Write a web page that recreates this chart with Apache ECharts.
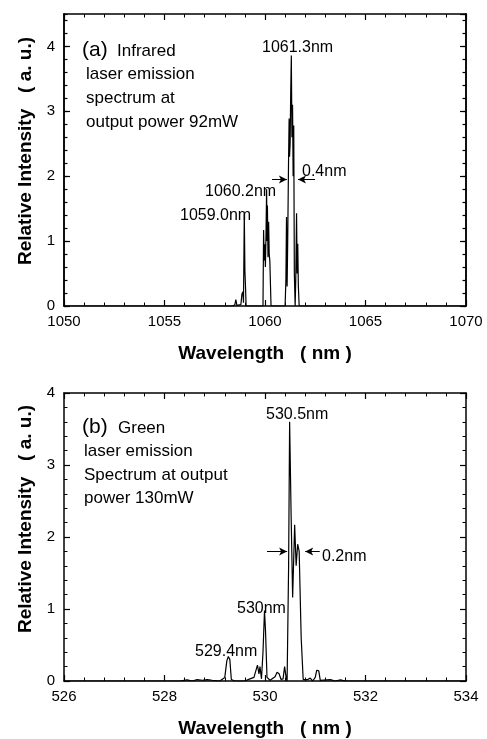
<!DOCTYPE html>
<html><head><meta charset="utf-8">
<script src="https://cdn.jsdelivr.net/npm/echarts@6/dist/echarts.min.js"></script>
<style>html,body{margin:0;padding:0;background:#fff}#c{width:487px;height:739px}</style>
</head><body><div id="c"></div>
<script>
// Infrared spectrum (a)
const irWavelength = [1050,1058.4,1058.5,1058.55,1058.6,1058.8,1058.85,1058.9,1058.93,1058.97,1059.0,1059.03,1059.06,
  1059.9,1059.93,1059.96,1059.99,1060.02,1060.05,1060.08,1060.1,1060.12,1060.15,1060.18,1060.21,1060.24,1060.3,
  1061.0,1061.04,1061.07,1061.1,1061.13,1061.17,1061.2,1061.22,1061.25,1061.28,1061.31,1061.34,1061.37,1061.4,1061.43,1061.46,1061.5,
  1061.53,1061.57,1061.6,1061.63,1061.66,1061.7,1070];
const irIntensity = [0,0,0.02,0.1,0.01,0.02,0.18,0.22,0.05,1.42,0.55,0.3,0,
  0,1.17,0.7,0.95,0.6,1.1,1.8,1.0,1.55,0.75,1.3,0.8,0.7,0,
  0,0.4,1.37,0.3,1.0,2.2,2.89,2.3,2.5,3.3,3.86,2.6,3.1,2.0,2.78,0.5,0,
  0.4,1.43,0.5,0.96,0.3,0,0];
// Green spectrum (b)
const greenWavelength = [526,528.3,528.45,528.55,528.65,528.75,528.85,528.95,529.1,529.2,529.24,529.27,529.3,529.33,529.4,
  529.6,529.7,529.78,529.85,529.88,529.9,529.93,529.96,529.99,530.01,530.04,530.1,530.2,530.24,530.28,530.32,530.36,530.39,530.42,530.44,
  530.47,530.49,530.52,530.55,530.59,530.62,530.65,530.68,530.72,530.76,
  530.85,530.9,530.95,531.0,531.03,531.07,531.1,531.3,531.4,531.5,531.6,534];
const greenIntensity = [0,0,0.015,0,0.02,0.01,0.02,0.01,0,0.05,0.28,0.34,0.3,0.02,0,
  0,0.03,0.05,0.22,0.1,0.2,0.03,0.4,0.98,0.7,0.05,0.01,0.06,0.12,0.1,0.02,0.03,0.2,0.05,0,
  1.6,3.6,2.3,1.16,2.17,1.6,1.9,1.8,0.6,0.02,
  0.02,0.04,0,0.05,0.15,0.14,0.01,0.02,0,0.015,0,0];
const irTicks = {min:1050, max:1070, interval:5};
const greenTicks = {min:526, max:534, interval:2};
const irYMax = 4.5, greenYMax = 4;

const irData = irWavelength.map((w,i)=>[w, irIntensity[i]]);
const greenData = greenWavelength.map((w,i)=>[w, greenIntensity[i]]);

const FONT = '"Liberation Sans", Arial, Helvetica, sans-serif';
const black = '#000';
const lineS = {show:true, onZero:false, lineStyle:{color:black, width:1.5}};
function xAx(grid, t, pos, labels, name){
  return {type:'value', gridIndex:grid, position:pos, min:t.min, max:t.max, interval:t.interval,
    axisLine:lineS, splitLine:{show:false},
    axisTick:{inside:true, length:6, lineStyle:{color:black, width:1.2}},
    minorTick:{show:true, splitNumber:5, length:3.5, lineStyle:{color:black, width:1}},
    axisLabel:{show:labels, color:black, fontSize:15, fontFamily:FONT, margin:8, formatter:v=>String(v)},
    name: name||'', nameLocation:'middle', nameGap:38,
    nameTextStyle:{color:black, fontSize:19, fontWeight:'bold', fontFamily:FONT}};
}
function yAx(grid, max, interval, pos, labels, tickLen, minor, name, showMax, shift){
  return {type:'value', gridIndex:grid, position:pos, min:0, max:max, interval:interval,
    axisLine:lineS, splitLine:{show:false},
    axisTick:{inside:true, length:tickLen, lineStyle:{color:black, width:1.2}},
    minorTick:{show:minor, splitNumber:5, length:3.5, lineStyle:{color:black, width:1}},
    axisLabel:{show:labels, color:black, fontSize:15, fontFamily:FONT, margin:9, showMaxLabel:!!showMax},
    name: name||'', nameLocation:'middle', nameGap:28,
    nameTextStyle:{color:black, fontSize:19, fontWeight:'bold', fontFamily:FONT, padding:[0,0,0,shift||0]}};
}
const yName = 'Relative Intensity   ( a. u.)';
const xName = 'Wavelength   ( nm )';
const txt = (x,y,t,size)=>({type:'text', x:x, y:y, silent:true,
  style:{text:t, font:(size||16)+'px '+FONT, fill:black, textVerticalAlign:'middle', textAlign:'left'}});

const option = {
  animation:false,
  grid:[{left:64, top:14, width:402, height:292},{left:64, top:393, width:402, height:292}],
  xAxis:[xAx(0,irTicks,'bottom',true,xName), xAx(0,irTicks,'top',false),
         xAx(1,greenTicks,'bottom',true,xName), xAx(1,greenTicks,'top',false)],
  yAxis:[yAx(0,irYMax,1,'left',true,6,false,yName,false,18), yAx(0,irYMax,1,'right',false,6,false),
         yAx(0,irYMax,0.2,'left',false,3.5,false), yAx(0,irYMax,0.2,'right',false,3.5,false),
         yAx(1,greenYMax,1,'left',true,6,true,yName,true,36), yAx(1,greenYMax,1,'right',false,6,true)],
  series:[
    {type:'line', xAxisIndex:0, yAxisIndex:0, data:irData, showSymbol:false, symbol:'none',
     lineStyle:{color:black, width:1.2}, silent:true,
     markLine:{silent:true, symbol:['none','arrow'], symbolSize:[6,8], label:{show:false},
       lineStyle:{color:black, width:1, type:'solid'},
       data:[[{coord:[1060.35,1.95]},{coord:[1061.09,1.95]}],[{coord:[1062.49,1.95]},{coord:[1061.64,1.95]}]]}},
    {type:'line', xAxisIndex:2, yAxisIndex:4, data:greenData, showSymbol:false, symbol:'none',
     lineStyle:{color:black, width:1.2}, silent:true,
     markLine:{silent:true, symbol:['none','arrow'], symbolSize:[6,8], label:{show:false},
       lineStyle:{color:black, width:1, type:'solid'},
       data:[[{coord:[530.04,1.8]},{coord:[530.44,1.8]}],[{coord:[531.09,1.8]},{coord:[530.80,1.8]}]]}}
  ],
  graphic:[
    txt(82,50,'(a)',21), txt(117,51,'Infrared',17), txt(86,74,'laser emission',17),
    txt(86,98,'spectrum at',17), txt(86,122,'output power 92mW',17),
    txt(262,48,'1061.3nm'), txt(302,172,'0.4nm'), txt(205,192,'1060.2nm'), txt(180,216,'1059.0nm'),
    txt(82,427,'(b)',21), txt(118,428,'Green',17), txt(84,451,'laser emission',17),
    txt(84,475,'Spectrum at output',17), txt(84,498,'power 130mW',17),
    txt(266,415,'530.5nm'), txt(322,557,'0.2nm'), txt(237,609,'530nm'), txt(195,652,'529.4nm')
  ]
};
echarts.init(document.getElementById('c'),null,{renderer:'canvas'}).setOption(option);
</script></body></html>
